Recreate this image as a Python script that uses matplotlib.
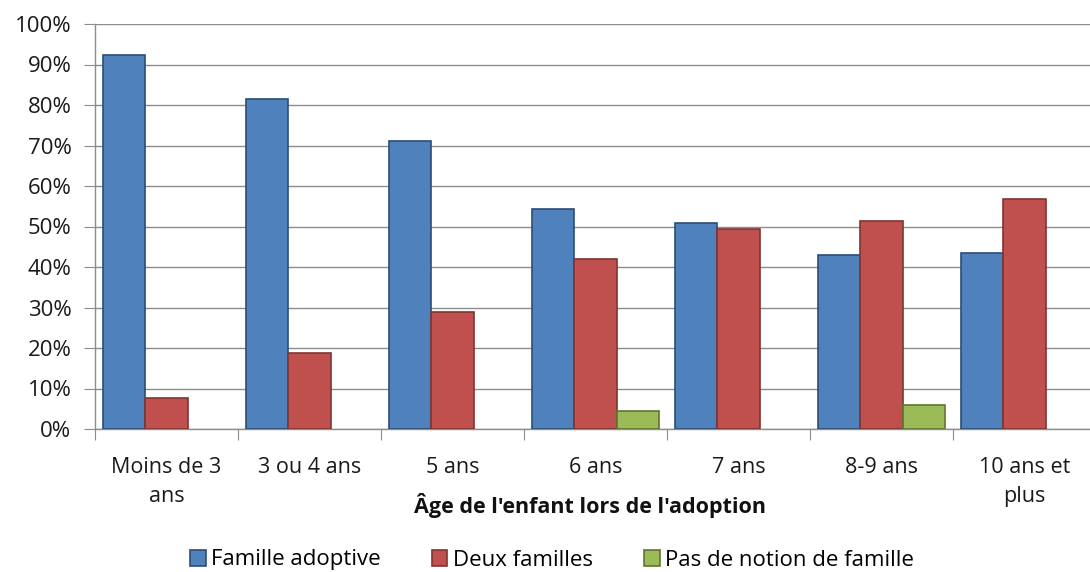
import numpy as np
import matplotlib.pyplot as plt
from matplotlib.ticker import MultipleLocator, FuncFormatter

plt.rcParams['font.family'] = ['Open Sans', 'DejaVu Sans']

categories = ["Moins de 3\nans", "3 ou 4 ans", "5 ans", "6 ans", "7 ans", "8-9 ans", "10 ans et\nplus"]
famille_adoptive = [92.3, 81.5, 71.1, 54.3, 50.9, 43.0, 43.5]
deux_familles = [7.7, 18.8, 28.9, 42.0, 49.4, 51.4, 56.8]
pas_de_notion = [0.0, 0.0, 0.0, 4.4, 0.0, 5.9, 0.0]

series = [("Famille adoptive", famille_adoptive, "#4F81BD", "#2C4D75"),
          ("Deux familles", deux_familles, "#C0504D", "#7E3532"),
          ("Pas de notion de famille", pas_de_notion, "#9BBB59", "#5F7530")]

fig = plt.figure(figsize=(10.9, 5.72), dpi=100)
ax = fig.add_axes([95/1090, 143/572, 1001/1090, 405/572])

x = np.arange(len(categories))
w = 0.295
for i, (name, vals, col, edge) in enumerate(series):
    xs = x - w + i * w
    v = np.array(vals)
    m = v > 0
    ax.bar(xs[m], v[m], width=w, color=col, edgecolor=edge, linewidth=1.2,
           label=name, zorder=3)
ax.set_xlim(-0.5, len(categories) - 0.5)
ax.set_ylim(0, 100)

ax.yaxis.set_major_locator(MultipleLocator(10))
ax.yaxis.set_major_formatter(FuncFormatter(lambda v, p: "%d%%" % v))
ax.grid(axis='y', color='#8C8C8C', linewidth=1.0, zorder=0)

ax.set_xticks(np.arange(len(categories) + 1) - 0.5)
ax.set_xticklabels([])
ax.set_xticks(x, minor=True)
ax.set_xticklabels(categories, minor=True, fontsize=15.5, linespacing=1.5,
                   color='#1A1A1A')
ax.tick_params(axis='x', which='minor', length=0, pad=20)
ax.tick_params(axis='x', which='major', length=8, color='#8C8C8C')
ax.tick_params(axis='y', length=8, color='#8C8C8C', labelsize=16,
               labelcolor='#1A1A1A', pad=9)

for s in ['top', 'right']:
    ax.spines[s].set_visible(False)
for s in ['left', 'bottom']:
    ax.spines[s].set_color('#8C8C8C')
    ax.spines[s].set_linewidth(1.0)

fig.text(590/1090, 1 - 505/572, "Âge de l'enfant lors de l'adoption",
         ha='center', va='center', fontsize=15.5, fontweight='bold', color='#111111')

fig.legend(loc='center', bbox_to_anchor=(552/1090, 1 - 560/572), ncol=3,
           frameon=False, fontsize=16, handlelength=0.7, handleheight=0.7,
           handletextpad=0.25, columnspacing=2.3)

fig.savefig("out.png", dpi=100)
